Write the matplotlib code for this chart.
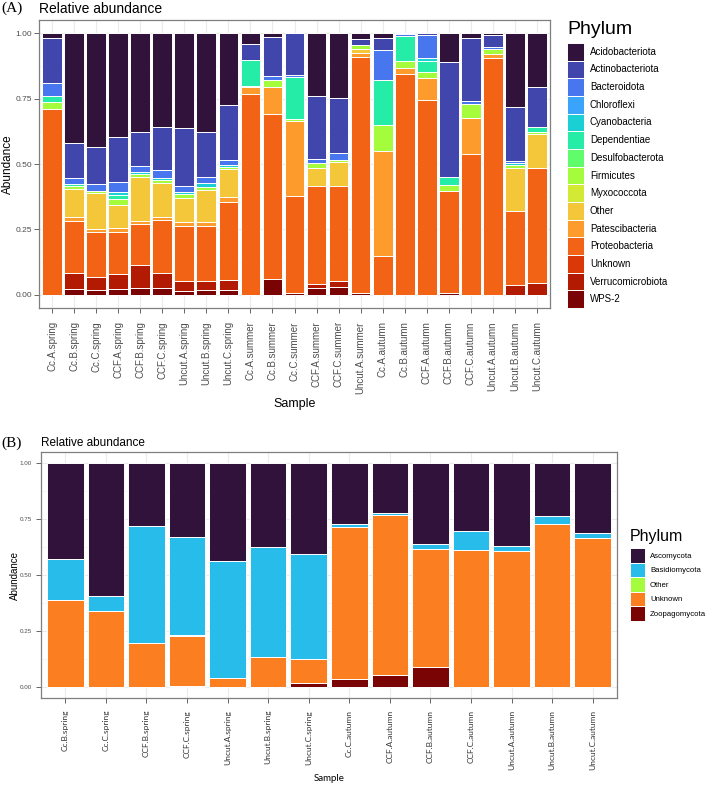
import numpy as np
import matplotlib
matplotlib.use('Agg')
import matplotlib.pyplot as plt
from matplotlib.patches import Patch

plt.rcParams['font.family'] = ['Liberation Sans', 'DejaVu Sans']

# ---- panel A: bacteria ----
samples_a = ['Cc.A.spring', 'Cc.B.spring', 'Cc.C.spring', 'CCF.A.spring', 'CCF.B.spring',
             'CCF.C.spring', 'Uncut.A.spring', 'Uncut.B.spring', 'Uncut.C.spring',
             'Cc.A.summer', 'Cc.B.summer', 'Cc.C.summer', 'CCF.A.summer', 'CCF.C.summer',
             'Uncut.A.summer', 'Cc.A.autumn', 'Cc.B.autumn', 'CCF.A.autumn', 'CCF.B.autumn',
             'CCF.C.autumn', 'Uncut.A.autumn', 'Uncut.B.autumn', 'Uncut.C.autumn']
phyla_a = ['Acidobacteriota', 'Actinobacteriota', 'Bacteroidota', 'Chloroflexi', 'Cyanobacteria',
           'Dependentiae', 'Desulfobacterota', 'Firmicutes', 'Myxococcota', 'Other',
           'Patescibacteria', 'Proteobacteria', 'Unknown', 'Verrucomicrobiota', 'WPS-2']

acido = [0.018, 0.421, 0.434, 0.398, 0.379, 0.360, 0.364, 0.377, 0.275, 0.041, 0.014, 0.0,
         0.242, 0.249, 0.023, 0.020, 0.0, 0.0, 0.112, 0.020, 0.008, 0.284, 0.205]
actino = [0.174, 0.131, 0.144, 0.169, 0.128, 0.163, 0.221, 0.171, 0.211, 0.062, 0.150, 0.161,
          0.239, 0.210, 0.023, 0.045, 0.004, 0.008, 0.439, 0.238, 0.047, 0.205, 0.155]
bactero = [0.047, 0.026, 0.025, 0.041, 0.022, 0.029, 0.023, 0.026, 0.019, 0.0, 0.015, 0.006,
           0.016, 0.026, 0.0, 0.116, 0.006, 0.086, 0.0, 0.014, 0.006, 0.007, 0.0]
chloro = [0.0] * 23
cyano = [0.0, 0.0, 0.0, 0.010, 0.008, 0.010, 0.008, 0.012, 0.005, 0.0, 0.0, 0.0,
         0.0, 0.0, 0.0, 0.0, 0.0, 0.012, 0.0, 0.0, 0.0, 0.006, 0.0]
depend = [0.023, 0.007, 0.0, 0.014, 0.0, 0.0, 0.0, 0.0, 0.0, 0.099, 0.0, 0.163,
          0.0, 0.0, 0.0, 0.170, 0.098, 0.042, 0.029, 0.0, 0.0, 0.0, 0.019]
desulfo = [0.0] * 23
firmi = [0.028, 0.010, 0.009, 0.024, 0.014, 0.012, 0.012, 0.012, 0.008, 0.005, 0.026, 0.006,
         0.017, 0.009, 0.016, 0.099, 0.024, 0.025, 0.023, 0.054, 0.020, 0.012, 0.007]
myxo = [0.0] * 23
other_a = [0.0, 0.107, 0.136, 0.090, 0.165, 0.127, 0.095, 0.125, 0.108, 0.0, 0.0, 0.0,
           0.070, 0.090, 0.014, 0.0, 0.0, 0.0, 0.0, 0.0, 0.0, 0.165, 0.128]
patesci = [0.0, 0.016, 0.010, 0.012, 0.013, 0.013, 0.012, 0.012, 0.019, 0.026, 0.105, 0.285,
           0.0, 0.0, 0.014, 0.400, 0.026, 0.083, 0.0, 0.134, 0.016, 0.0, 0.0]
proteo = [0.710, 0.197, 0.175, 0.163, 0.156, 0.203, 0.212, 0.211, 0.298, 0.767, 0.630, 0.373,
          0.376, 0.363, 0.904, 0.150, 0.842, 0.744, 0.391, 0.540, 0.903, 0.283, 0.441]
unknown_a = [0.0] * 23
verruco = [0.0, 0.062, 0.048, 0.056, 0.090, 0.055, 0.038, 0.036, 0.038, 0.0, 0.0, 0.0,
           0.015, 0.021, 0.0, 0.0, 0.0, 0.0, 0.0, 0.0, 0.0, 0.038, 0.045]
wps2 = [0.0, 0.023, 0.019, 0.023, 0.025, 0.028, 0.015, 0.018, 0.019, 0.0, 0.060, 0.006,
        0.025, 0.032, 0.006, 0.0, 0.0, 0.0, 0.006, 0.0, 0.0, 0.0, 0.0]
values_a = [acido, actino, bactero, chloro, cyano, depend, desulfo, firmi, myxo,
            other_a, patesci, proteo, unknown_a, verruco, wps2]

# ---- panel B: fungi ----
samples_b = ['Cc.B.spring', 'Cc.C.spring', 'CCF.B.spring', 'CCF.C.spring', 'Uncut.A.spring',
             'Uncut.B.spring', 'Uncut.C.spring', 'Cc.C.autumn', 'CCF.A.autumn', 'CCF.B.autumn',
             'CCF.C.autumn', 'Uncut.A.autumn', 'Uncut.B.autumn', 'Uncut.C.autumn']
phyla_b = ['Ascomycota', 'Basidiomycota', 'Other', 'Unknown', 'Zoopagomycota']
asco = [0.430, 0.595, 0.281, 0.330, 0.438, 0.377, 0.407, 0.274, 0.224, 0.363, 0.305, 0.369, 0.238, 0.311]
basid = [0.184, 0.064, 0.525, 0.439, 0.522, 0.491, 0.469, 0.011, 0.009, 0.020, 0.085, 0.024, 0.036, 0.022]
other_b = [0.0, 0.0, 0.0, 0.005, 0.0, 0.0, 0.0, 0.0, 0.0, 0.0, 0.0, 0.0, 0.0, 0.0]
unknown_b = [0.386, 0.341, 0.194, 0.222, 0.040, 0.132, 0.109, 0.682, 0.715, 0.530, 0.610, 0.607, 0.726, 0.667]
zoopago = [0.0, 0.0, 0.0, 0.004, 0.0, 0.0, 0.015, 0.033, 0.052, 0.087, 0.0, 0.0, 0.0, 0.0]
values_b = [asco, basid, other_b, unknown_b, zoopago]

yticks = [0, 0.25, 0.5, 0.75, 1.0]
ytick_labels = ['0.00', '0.25', '0.50', '0.75', '1.00']


def stacked(ax, samples, phyla, values, colors):
    x = np.arange(len(samples))
    bottom = np.zeros(len(samples))
    # ggplot stacks the last level at the bottom
    for name, vals, col in reversed(list(zip(phyla, values, colors))):
        vals = np.array(vals)
        ax.bar(x, vals, 0.9, bottom=bottom, color=col, edgecolor='white', linewidth=0.7)
        bottom += vals
    ax.set_xlim(-0.6, len(samples) - 0.4)
    ax.set_ylim(-0.05, 1.05)
    ax.set_xticks(x)
    ax.set_yticks(yticks)
    ax.set_yticks([0.125, 0.375, 0.625, 0.875], minor=True)
    ax.grid(True, which='major', color='#EBEBEB', lw=0.8)
    ax.grid(True, which='minor', axis='y', color='#F2F2F2', lw=0.5)
    ax.tick_params(which='minor', length=0)
    ax.set_axisbelow(True)
    for s in ax.spines.values():
        s.set_color('#7F7F7F')
        s.set_linewidth(0.9)
    ax.tick_params(which='major', color='#4D4D4D', length=3.5, width=0.6)
    return x


def key_legend(ax, colors, labels, left, top, fs, key_w, key_h, gap):
    # sizes in pixels at 100 dpi -> points
    kw = key_w * 0.72
    kh = key_h * 0.72
    hh = (kh / fs - 0.245) / 0.65
    handles = [Patch(facecolor=c, edgecolor='white', linewidth=0.7) for c in colors]
    ax.legend(handles, labels, loc='upper left',
              bbox_to_anchor=(left / W, 1 - top / H), bbox_transform=fig.transFigure,
              frameon=False, fontsize=fs, handlelength=kw / fs, handleheight=hh,
              labelspacing=0.0, handletextpad=gap * 0.72 / fs,
              borderpad=0, borderaxespad=0)


fig = plt.figure(figsize=(7.09, 7.86), dpi=100)
W, H = 709, 786

cmap = plt.get_cmap('turbo')
cols_a = [cmap(v) for v in np.linspace(0, 1, len(phyla_a))]
cols_b = [cmap(v) for v in np.linspace(0, 1, len(phyla_b))]

# panel A
ax1 = fig.add_axes([39 / W, 1 - 308 / H, (550 - 39) / W, (308 - 20) / H])
stacked(ax1, samples_a, phyla_a, values_a, cols_a)
ax1.set_xticklabels(samples_a, rotation=90, fontsize=7, color='#4D4D4D', va='top')
ax1.tick_params(axis='x', pad=6)
ax1.set_yticklabels(ytick_labels, fontsize=6, color='#4D4D4D')
ax1.tick_params(axis='y', pad=1.5)
ax1.set_xlabel('Sample', fontsize=9, labelpad=3)
ax1.set_ylabel('Abundance', fontsize=8.5, va='center')
ax1.yaxis.set_label_coords((8 - 39) / 511, 0.5)
ax1.set_title('Relative abundance', loc='left', fontsize=10, pad=5)
key_legend(ax1, cols_a, phyla_a, 567, 43, 7, 17, 17.67, 6)
fig.text(567 / W, 1 - 29 / H, 'Phylum', fontsize=14, va='center')
fig.text(1 / W, 1 - 8 / H, '(A)', family='Liberation Serif', fontsize=11, va='center')

# panel B
ax2 = fig.add_axes([41 / W, 1 - 698 / H, (617 - 41) / W, (698 - 452) / H])
stacked(ax2, samples_b, phyla_b, values_b, cols_b)
ax2.set_xticklabels(samples_b, rotation=90, fontsize=6, color='#333333', va='top',
                    family=['Lato', 'DejaVu Sans'])
ax2.tick_params(axis='x', pad=5)
ax2.set_yticklabels(ytick_labels, fontsize=4.5, color='#4D4D4D')
ax2.tick_params(axis='y', pad=3)
ax2.set_xlabel('Sample', fontsize=7, labelpad=3, family=['Lato', 'DejaVu Sans'])
ax2.set_ylabel('Abundance', fontsize=7, va='center')
ax2.yaxis.set_label_coords((15 - 41) / 576, 0.5)
ax2.set_title('Relative abundance', loc='left', fontsize=8.5, pad=4)
key_legend(ax2, cols_b, phyla_b, 630, 548, 5.6, 15, 14.6, 5)
fig.text(630 / W, 1 - 537 / H, 'Phylum', fontsize=11.5, va='center')
fig.text(1 / W, 1 - 443 / H, '(B)', family='Liberation Serif', fontsize=11, va='center')

fig.savefig('out.png', dpi=100)
